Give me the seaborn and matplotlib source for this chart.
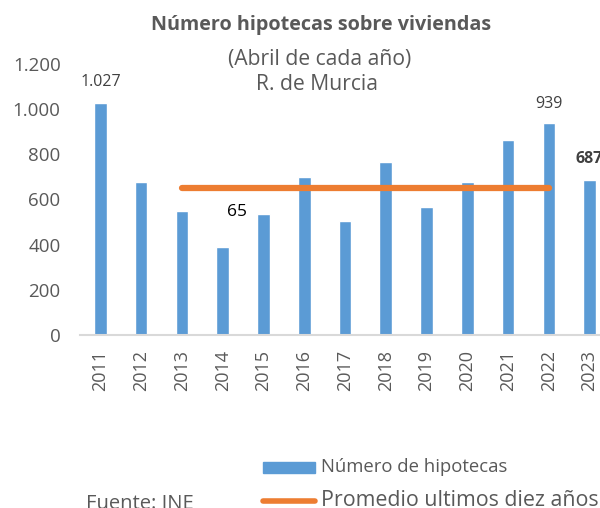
import numpy as np
import pandas as pd
import seaborn as sns
import matplotlib.pyplot as plt

# Data
years = ['2011', '2012', '2013', '2014', '2015', '2016', '2017',
         '2018', '2019', '2020', '2021', '2022', '2023']
hipotecas = [1027, 679, 547, 388, 534, 701, 503, 768, 565, 679, 865, 939, 687]
avg_years = ['2013', '2022']
avg_value = 649

df = pd.DataFrame({'year': years, 'n': hipotecas})

sns.set_style('white')
plt.rcParams['font.family'] = ['Open Sans', 'DejaVu Sans']

blue = '#5B9BD5'
orange = '#ED7D31'
grey = '#595959'

W, H = 600, 508
fig = plt.figure(figsize=(6, 5.08), dpi=100)
ax = fig.add_axes([80 / W, 1 - 335 / H, 530 / W, 271 / H])

sns.barplot(data=df, x='year', y='n', color=blue, width=0.31,
            saturation=1, ax=ax)

# average line over the last ten years
xpos = [years.index(y) for y in avg_years]
ax.plot(xpos, [avg_value, avg_value], color=orange, lw=4.5,
        solid_capstyle='round')

ax.set_ylim(0, 1200)
ax.set_xlim(-0.5, 12.5)
ax.set_yticks(range(0, 1201, 200))
ax.set_yticklabels(['0', '200', '400', '600', '800', '1.000', '1.200'])
ax.tick_params(axis='y', labelsize=13.5, colors=grey, length=0, pad=14)
ax.tick_params(axis='x', labelsize=13, colors=grey, length=0, rotation=90, pad=11)
ax.set_xlabel('')
ax.set_ylabel('')
for s in ['top', 'right', 'left']:
    ax.spines[s].set_visible(False)
ax.spines['bottom'].set_color('#D9D9D9')
ax.spines['bottom'].set_linewidth(1.5)

# data labels
ax.text(0, 1120, '1.027', ha='center', va='center', fontsize=11.5, color='#404040')
ax.text(11, 1025, '939', ha='center', va='center', fontsize=11.5, color='#404040')
ax.text(12, 778, '687', ha='center', va='center', fontsize=11.5,
        fontweight='bold', color='#404040')
ax.text(3.35, 545, '65', ha='center', va='center', fontsize=12.5, color='black')

# titles
fig.text(321 / W, 1 - 25 / H, 'Número hipotecas sobre viviendas', ha='center',
         va='center', fontsize=14.2, fontweight='bold', color=grey)
fig.text(320 / W, 1 - 59 / H, '(Abril de cada año)', ha='center', va='center',
         fontsize=15.2, color=grey)
fig.text(317 / W, 1 - 85 / H, 'R. de Murcia', ha='center', va='center',
         fontsize=15.2, color=grey)

# legend drawn by hand as in the original
fig.patches.append(plt.Rectangle((263 / W, 1 - 473 / H), 52 / W, 11 / H,
                                 transform=fig.transFigure, color=blue))
fig.text(321 / W, 1 - 467 / H, 'Número de hipotecas', ha='left',
         va='center', fontsize=13.3, color=grey)
fig.add_artist(plt.Line2D([263 / W, 315 / W], [1 - 501 / H, 1 - 501 / H],
                          transform=fig.transFigure, color=orange, lw=4,
                          solid_capstyle='round'))
fig.text(321 / W, 1 - 501 / H, 'Promedio ultimos diez años', ha='left',
         va='center', fontsize=15.4, color=grey)
fig.text(86 / W, 1 - 504 / H, 'Fuente: INE', ha='left', va='center',
         fontsize=14.5, color=grey)

fig.savefig('out.png', dpi=100)
